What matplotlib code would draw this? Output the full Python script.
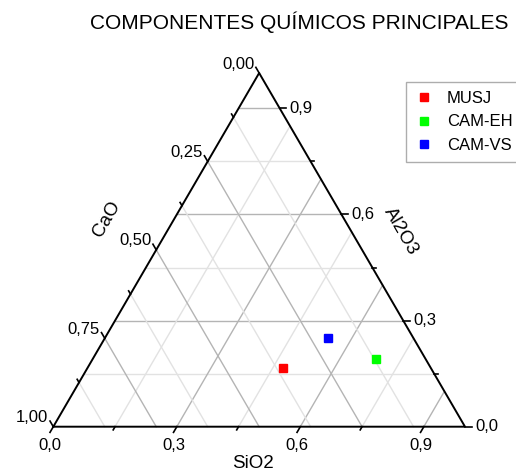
import numpy as np
import matplotlib
matplotlib.use("Agg")
import matplotlib.pyplot as plt

plt.rcParams['font.family'] = ['Liberation Sans', 'DejaVu Sans']

# composition (fractions) of each sample: SiO2, CaO, Al2O3
amostras = ["MUSJ", "CAM-EH", "CAM-VS"]
sio2 = [0.475, 0.69, 0.543]
cao = [0.36, 0.12, 0.207]
al2o3 = [0.165, 0.19, 0.25]
cores = ["#ff0000", "#00ff00", "#0000ff"]

ticks_sio2 = [0.0, 0.15, 0.3, 0.45, 0.6, 0.75, 0.9]
ticks_al2o3 = [0.0, 0.15, 0.3, 0.45, 0.6, 0.75, 0.9]
ticks_cao = [0.0, 0.125, 0.25, 0.375, 0.5, 0.625, 0.75, 0.875, 1.0]
rot_sio2 = ["0,0", "0,3", "0,6", "0,9"]
rot_al2o3 = ["0,0", "0,3", "0,6", "0,9"]
rot_cao = ["0,00", "0,25", "0,50", "0,75", "1,00"]

H = np.sqrt(3) / 2


def xy(s, a):
    # cartesian position from SiO2 and Al2O3 fractions
    return s + a / 2, a * H


fig = plt.figure(figsize=(5.16, 4.75), dpi=100)
ax = fig.add_axes([0, 0, 1, 1])
ax.set_xlim(-53.3 / 411.7, (516 - 53.3) / 411.7)
ax.set_ylim(-(475 - 426.7) / 408.4, 426.7 / 408.4)
ax.axis("off")

maior = "#b4b4b4"
menor = "#e2e2e2"

# grade: Al2O3 constante (horizontais)
for a in ticks_al2o3[1:]:
    cor = maior if round(a / 0.3, 6) % 1 == 0 else menor
    x0, y0 = xy(0, a)
    x1, y1 = xy(1 - a, a)
    ax.plot([x0, x1], [y0, y1], color=cor, lw=1, zorder=1)
# SiO2 constante
for s in ticks_sio2[1:]:
    cor = maior if round(s / 0.3, 6) % 1 == 0 else menor
    x0, y0 = xy(s, 0)
    x1, y1 = xy(s, 1 - s)
    ax.plot([x0, x1], [y0, y1], color=cor, lw=1, zorder=1)
# CaO constante
for c in ticks_cao[1:-1]:
    cor = maior if round(c / 0.25, 6) % 1 == 0 else menor
    x0, y0 = xy(0, 1 - c)
    x1, y1 = xy(1 - c, 0)
    ax.plot([x0, x1], [y0, y1], color=cor, lw=1, zorder=1)

# bordas do triângulo
ax.plot([0, 1, 0.5, 0], [0, 0, H, 0], color="black", lw=1.4, zorder=3)

tl_maior = 0.016
tl_menor = 0.009
fs = 12
# marcas e rótulos SiO2 (base)
for i, s in enumerate(ticks_sio2):
    x, y = xy(s, 0)
    tl = tl_maior if i % 2 == 0 else tl_menor
    ax.plot([x, x - 0.5 * tl], [y, y - H * tl], color="black", lw=1.2, zorder=3)
    if i % 2 == 0:
        ax.text(x - 0.008, y - 0.028, rot_sio2[i // 2], ha="center", va="top", fontsize=fs)
# marcas e rótulos Al2O3 (direita)
for i, a in enumerate(ticks_al2o3):
    x, y = xy(1 - a, a)
    tl = tl_maior if i % 2 == 0 else tl_menor
    ax.plot([x, x + tl], [y, y], color="black", lw=1.2, zorder=3)
    if i % 2 == 0:
        ax.text(x + tl_maior + 0.008, y, rot_al2o3[i // 2], ha="left", va="center", fontsize=fs)
# marcas e rótulos CaO (esquerda)
for i, c in enumerate(ticks_cao):
    x, y = xy(0, 1 - c)
    tl = tl_maior if i % 2 == 0 else tl_menor
    ax.plot([x, x - 0.5 * tl], [y, y + H * tl], color="black", lw=1.2, zorder=3)
    if i % 2 == 0:
        ax.text(x - 0.012, y + 0.022, rot_cao[i // 2], ha="right", va="center", fontsize=fs)

# títulos dos eixos
ax.text(0.485, -0.09, "SiO2", ha="center", va="center", fontsize=13.5)
xc, yc = xy(0, 0.5)
ax.text(xc - 0.12, yc + 0.075, "CaO", ha="center", va="center", fontsize=13.5, rotation=60)
xa, ya = xy(0.5, 0.5)
ax.text(xa + 0.095, ya + 0.045, "Al2O3", ha="center", va="center", fontsize=13.5, rotation=-60)

# amostras
for nome, s, c, a, cor in zip(amostras, sio2, cao, al2o3, cores):
    x, y = xy(s, a)
    ax.plot(x, y, "s", color=cor, markersize=6, label=nome, zorder=4, linestyle="none")

leg = ax.legend(loc="upper left", bbox_to_anchor=(406 / 516, 1 - 82 / 475),
                frameon=True, fancybox=False, fontsize=12, handlelength=1,
                handletextpad=0.9, borderpad=0.55, labelspacing=0.5, borderaxespad=0)
leg.get_frame().set_edgecolor("#999999")
leg.get_frame().set_linewidth(1)

fig.text(299 / 516, 1 - 22 / 475, "COMPONENTES QUÍMICOS PRINCIPALES",
         ha="center", va="center", fontsize=15)

fig.savefig("out.png", dpi=100)
